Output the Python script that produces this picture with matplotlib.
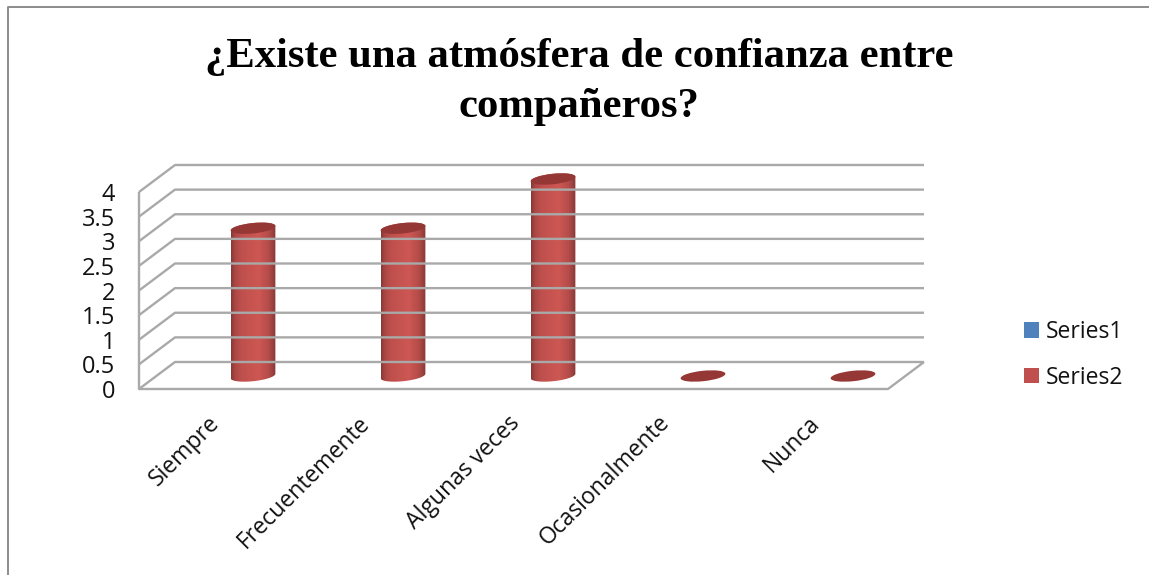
import numpy as np
import matplotlib
matplotlib.use('Agg')
import matplotlib.pyplot as plt
from matplotlib.colors import LinearSegmentedColormap
from matplotlib.lines import Line2D
from matplotlib.patches import Ellipse, PathPatch, Patch
from matplotlib.path import Path
from matplotlib.transforms import Affine2D, IdentityTransform

categories = ['Siempre', 'Frecuentemente', 'Algunas veces', 'Ocasionalmente', 'Nunca']
series_names = ['Series1', 'Series2']
series2 = [3, 3, 4, 0, 0]
y_ticks = [0, 0.5, 1, 1.5, 2, 2.5, 3, 3.5, 4]

W, H = 1149, 575
GRID = '#a9a9a9'
RED = '#c0504d'
BLUE = '#4f81bd'
TOP = '#953735'

# depth of the floor in pixels, measured from the plane the cylinders stand on
FRONT = (-18, -13)
BACK = (18, 14)
RX, RY, TILT = 22.5, 5.2, 6

plt.rcParams['font.family'] = ['Open Sans', 'DejaVu Sans']

fig = plt.figure(figsize=(W / 100, H / 100), dpi=100)
ax = fig.add_axes([157 / W, (H - 376) / H, (906 - 157) / W, 197 / H])
ax.set_xlim((157 - 253) / 150, (906 - 253) / 150)
ax.set_ylim(0, 4)
ax.axis('off')


def plane(dx, dy):
    return ax.transData + Affine2D().translate(dx, dy)


def line(xs, ys):
    fig.add_artist(Line2D(xs, ys, transform=IdentityTransform(),
                          color=GRID, lw=1.7, solid_capstyle='butt', zorder=1))


def to_px(x, y, offset=(0, 0)):
    return plane(*offset).transform((x, y))


x0, x1 = ax.get_xlim()

# walls and floor
for v in y_ticks:
    front = to_px(x0, v, FRONT)
    back = to_px(x0, v, BACK)
    right = to_px(x1, v, BACK)
    line([front[0], back[0], right[0]], [front[1], back[1], right[1]])
fl, fr = to_px(x0, 0, FRONT), to_px(x1, 0, FRONT)
br = to_px(x1, 0, BACK)
tl = to_px(x0, 4, FRONT)
line([tl[0], fl[0], fr[0], br[0]], [tl[1], fl[1], fr[1], br[1]])

# cylinder shading, left to right
shade = LinearSegmentedColormap.from_list('cyl', [
    (0, '#863836'), (0.1, '#ad4946'), (0.25, '#c0504d'), (0.62, '#cd5753'),
    (0.84, '#b44c49'), (1, '#863836')])
grad = np.linspace(0, 1, 256).reshape(1, -1)
rot = np.deg2rad(TILT)


def ring(cx, cy, start, stop):
    t = np.deg2rad(np.linspace(start, stop, 60))
    ex, ey = RX * np.cos(t), RY * np.sin(t)
    return np.column_stack([cx + ex * np.cos(rot) - ey * np.sin(rot),
                            cy + ex * np.sin(rot) + ey * np.cos(rot)])


half = RX / 150
for i, v in enumerate(series2):
    bx, by = to_px(i, 0)
    if v > 0:
        tx, ty = to_px(i, v)
        verts = np.vstack([ring(bx, by, 180, 360), ring(tx, ty, 0, 180)])
        body = PathPatch(Path(np.vstack([verts, verts[:1]]), closed=True),
                         transform=IdentityTransform(), fc='none', ec='none')
        ax.add_patch(body)
        im = ax.imshow(grad, cmap=shade, aspect='auto', zorder=3,
                       extent=(i - half, i + half, -0.2, v + 0.2))
        im.set_clip_box(fig.bbox)
        im.set_clip_path(body)
    else:
        tx, ty = bx, by
    ax.add_artist(Ellipse((tx, ty), 2 * RX, 2 * RY, angle=TILT, fc=TOP, ec='none',
                          transform=IdentityTransform(), zorder=4, clip_on=False))
ax.set_xlim(x0, x1)
ax.set_ylim(0, 4)

# value labels follow the front edge of the left wall
for v in y_ticks:
    px = to_px(x0, v, FRONT)
    ax.annotate(f'{v:g}', xy=(115, px[1]), xycoords=IdentityTransform(),
                ha='right', va='center_baseline', fontsize=17, color='#111111')

for i, name in enumerate(categories):
    px = to_px(i, 0)
    ax.annotate(name, xy=(px[0] - 45, px[1] - 35), xycoords=IdentityTransform(),
                ha='right', va='top', rotation=45, rotation_mode='anchor',
                fontsize=16.5, color='#111111')

fig.text(579 / W, 1 - 82 / H, '¿Existe una atmósfera de confianza entre\ncompañeros?',
         ha='center', va='center', fontsize=30.7, fontweight='bold',
         family=['Liberation Serif', 'DejaVu Serif'], color='black', linespacing=1.42)

handles = [Patch(fc=BLUE, ec='none'), Patch(fc=RED, ec='none')]
fig.legend(handles, series_names, loc='center left', bbox_to_anchor=(1024 / W, 1 - 355 / H),
           frameon=False, fontsize=16.5, handlelength=0.65, handleheight=0.65,
           handletextpad=0.3, labelspacing=0.95, borderpad=0, borderaxespad=0,
           labelcolor='#111111')

# outer chart frame
fig.add_artist(Line2D([8 / W, 8 / W, 1], [0, 1 - 6.5 / H, 1 - 6.5 / H], color='#8c8c8c', lw=1.4))

fig.savefig('out.png', dpi=100)
